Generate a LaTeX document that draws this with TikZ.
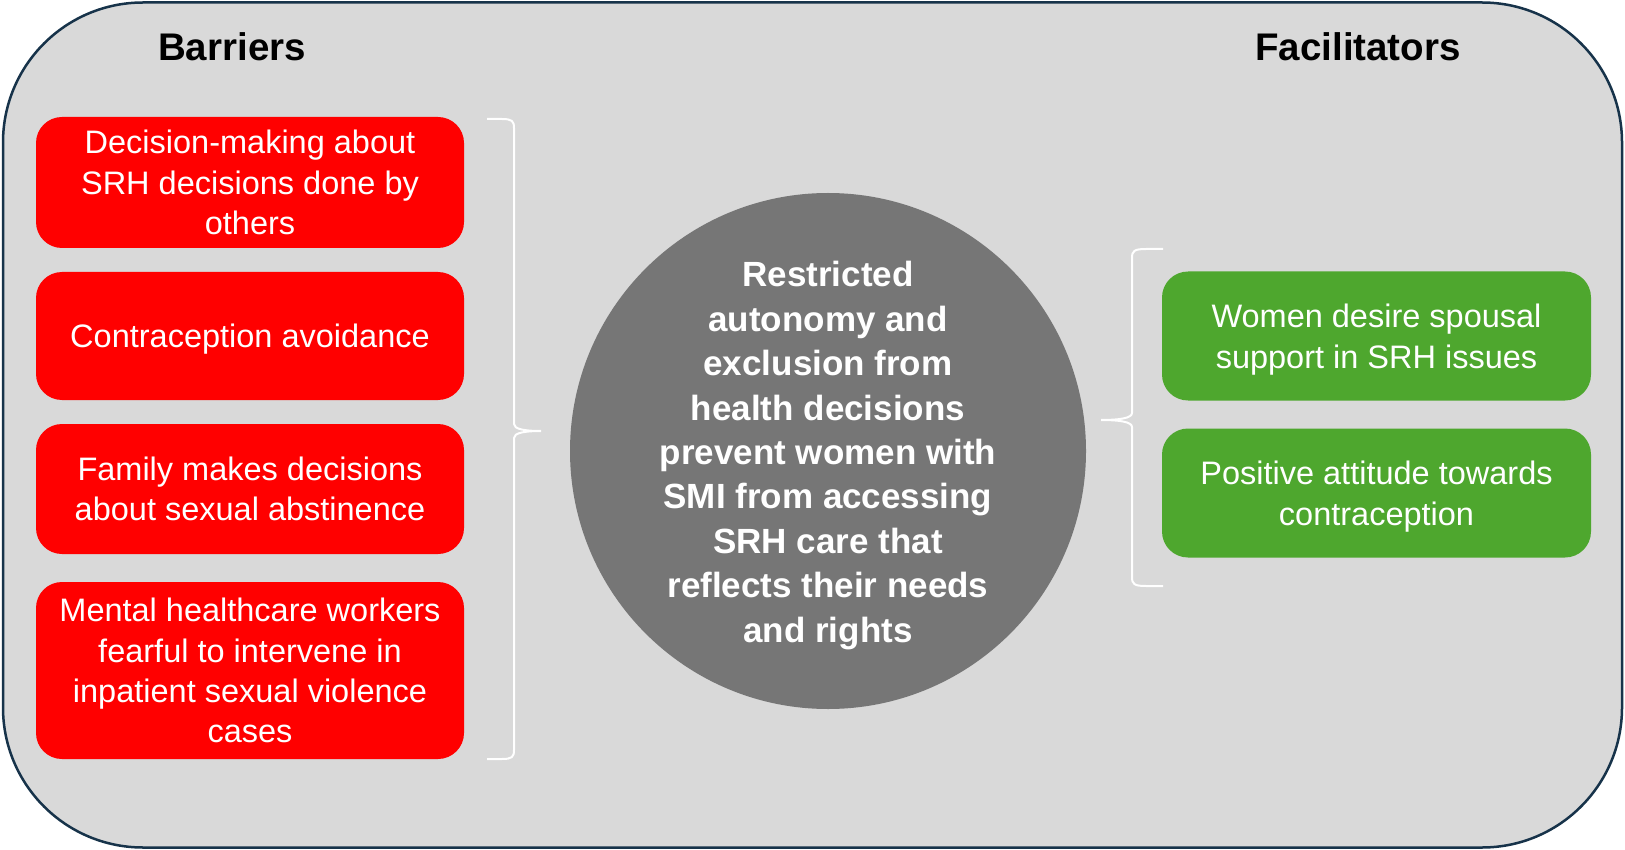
\documentclass[tikz,border=0pt]{standalone}
\usepackage{fontspec}
\setmainfont{Liberation Sans}
\definecolor{bggray}{HTML}{D9D9D9}
\definecolor{framecol}{HTML}{17334A}
\definecolor{boxred}{HTML}{FF0000}
\definecolor{boxgreen}{HTML}{4EA72E}
\definecolor{circgray}{HTML}{767676}
\tikzset{
  framebox/.style={draw=framecol, line width=2.5pt, fill=bggray, rounded corners=140pt,
    minimum width=1619pt, minimum height=845pt, inner sep=0pt},
  headtext/.style={font=\fontsize{38.5}{46}\selectfont\bfseries, text=black},
  boxtext/.style={text=white, align=center, inner sep=0pt, font=\fontsize{32.5}{40.2}\selectfont},
  barbox/.style={fill=boxred, rounded corners=26pt, minimum width=428pt, inner sep=0pt,
    text=white, align=center, font=\fontsize{32.5}{40.2}\selectfont},
  facbox/.style={fill=boxgreen, rounded corners=26pt, minimum width=429pt, minimum height=129pt,
    inner sep=0pt},
  centercirc/.style={circle, fill=circgray, minimum size=516pt, inner sep=0pt},
  circtext/.style={text=white, align=center, inner sep=0pt, font=\fontsize{35}{44.4}\selectfont\bfseries},
  bracepath/.style={draw=white, line width=2pt}
}
\begin{document}
\begin{tikzpicture}[x=1pt,y=-1pt]
\useasboundingbox (0,0) rectangle (1625,850);
\node[framebox] (frame) at (812.5,425) {};
\node[headtext] (hbar) at (232,47) {Barriers};
\node[headtext] (hfac) at (1358,47) {Facilitators};
\node[barbox, minimum height=131pt] (b1) at (250,182.5) {Decision-making about\\SRH decisions done by\\others};
\node[barbox, minimum height=128pt] (b2) at (250,336) {};
\node[boxtext] (b2t) at ([yshift=-3pt]b2.center) {Contraception avoidance};
\node[barbox, minimum height=130pt] (b3) at (250,489) {Family makes decisions\\about sexual abstinence};
\node[barbox, minimum height=177pt] (b4) at (250,670.5) {Mental healthcare workers\\fearful to intervene in\\inpatient sexual violence\\cases};
\node[facbox] (f1) at (1376.5,336) {};
\node[boxtext] (f1t) at ([yshift=-3.5pt]f1.center) {Women desire spousal\\support in SRH issues};
\node[facbox] (f2) at (1376.5,493) {};
\node[boxtext] (f2t) at ([yshift=-3.5pt]f2.center) {Positive attitude towards\\contraception};
\node[centercirc] (c) at (828,451) {};
\node[circtext] (ct) at ([yshift=-4.5pt]c.center) {Restricted\\autonomy and\\exclusion from\\health decisions\\prevent women with\\SMI from accessing\\SRH care that\\reflects their needs\\and rights};
% left brace
\draw[bracepath] (487,119) -- (502,119) .. controls (512,119) and (514,121) .. (514,128)
  -- (514,424) .. controls (514,429) and (524,431) .. (541,431)
  .. controls (524,431) and (514,433) .. (514,438)
  -- (514,750) .. controls (514,757) and (512,759) .. (502,759) -- (487,759);
% right brace
\draw[bracepath] (1163,249) -- (1146,249) .. controls (1134,249) and (1132,251) .. (1132,258)
  -- (1132,413) .. controls (1132,418) and (1120,420) .. (1101,420)
  .. controls (1120,420) and (1132,422) .. (1132,427)
  -- (1132,577) .. controls (1132,584) and (1134,586) .. (1146,586) -- (1163,586);
\end{tikzpicture}
\end{document}
